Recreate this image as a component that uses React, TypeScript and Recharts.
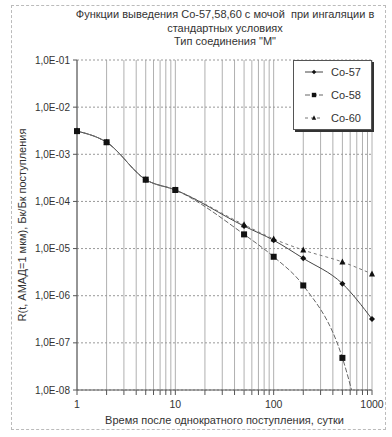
import React from "react";
import { LineChart, Line, XAxis, YAxis, CartesianGrid } from "recharts";

// время после поступления, сутки
const days = [1, 2, 5, 10, 50, 100, 200, 500, 1000];

// Бк/Бк поступления
const co57 = [3.1e-3, 1.8e-3, 2.9e-4, 1.75e-4, 3.0e-5, 1.5e-5, 6.2e-6, 1.8e-6, 3.2e-7];
const co58 = [3.1e-3, 1.8e-3, 2.9e-4, 1.75e-4, 2.0e-5, 6.7e-6, 1.65e-6, 4.8e-8, 1.3e-10];
const co60 = [3.1e-3, 1.8e-3, 2.9e-4, 1.75e-4, 3.2e-5, 1.6e-5, 9.3e-6, 5.2e-6, 2.9e-6];

const xDecades = [1, 10, 100, 1000];
const yTicks = [1e-8, 1e-7, 1e-6, 1e-5, 1e-4, 1e-3, 1e-2, 1e-1];

const titleLines = [
  "Функции выведения Co-57,58,60 с мочой  при ингаляции в",
  "стандартных условиях",
  "Тип соединения \"М\"",
];

const FONT = "'Liberation Sans', Arial, sans-serif";
const TEXT = "#333";

type Marker = "diamond" | "square" | "triangle";

const series: { key: string; name: string; values: number[]; stroke: string; dash?: string; marker: Marker }[] = [
  { key: "co57", name: "Co-57", values: co57, stroke: "#444", marker: "diamond" },
  { key: "co60", name: "Co-60", values: co60, stroke: "#777", dash: "3 3", marker: "triangle" },
  { key: "co58", name: "Co-58", values: co58, stroke: "#666", dash: "5 2", marker: "square" },
];
const legendOrder = ["co57", "co58", "co60"];

const data = days.map((d, i) => {
  const row: Record<string, number> = { day: d };
  series.forEach((s) => (row[s.key] = s.values[i]));
  return row;
});

// все промежуточные деления для сетки
const xTicks: number[] = [];
xDecades.forEach((d, i) => {
  if (i === xDecades.length - 1) { xTicks.push(d); return; }
  for (let k = 1; k < 10; k++) xTicks.push(d * k);
});

const fmtY = (v: number) => {
  const e = Math.round(Math.log10(v));
  return `1,0E-${String(-e).padStart(2, "0")}`;
};

function markerShape(type: Marker, cx: number, cy: number, r = 3, key?: string) {
  if (type === "square") return <rect key={key} x={cx - r} y={cy - r} width={2 * r} height={2 * r} fill="#111" />;
  if (type === "triangle")
    return <polygon key={key} points={`${cx},${cy - r - 0.5} ${cx + r},${cy + r - 0.5} ${cx - r},${cy + r - 0.5}`} fill="#111" />;
  return <polygon key={key} points={`${cx},${cy - r} ${cx + r},${cy} ${cx},${cy + r} ${cx - r},${cy}`} fill="#111" />;
}

const makeDot = (type: Marker) => (props: any) => {
  const { cx, cy, value, index } = props;
  if (cx == null || cy == null || value < 1e-8) return <g key={`d${index}`} />;
  return markerShape(type, cx, cy, 3, `d${index}`);
};

export default function App() {
  return (
    <div style={{ position: "absolute", left: 0, top: 0, width: 392, height: 437, background: "#fff", fontFamily: FONT }}>
      <div style={{ position: "absolute", left: 11, top: 5, width: 373, height: 423, border: "1px dashed #bbb" }} />

      <div style={{ position: "absolute", left: 50, width: 350, top: 8, textAlign: "center", fontSize: 11, lineHeight: "13.5px", color: TEXT }}>
        {titleLines.map((t) => (
          <div key={t} style={{ whiteSpace: "pre" }}>{t}</div>
        ))}
      </div>

      <div style={{ position: "absolute", left: 0, top: 0 }}>
        <LineChart width={392} height={437} data={data} margin={{ top: 60, right: 20, bottom: 21, left: 17 }}>
          <CartesianGrid horizontal={false} stroke="#b0b0b0" />
          <CartesianGrid vertical={false} stroke="#999" strokeDasharray="2 2" />
          <XAxis
            dataKey="day"
            type="number"
            scale="log"
            domain={[1, 1000]}
            ticks={xTicks}
            interval={0}
            height={26}
            tickSize={5}
            tickMargin={6}
            tickFormatter={(v: number) => (xDecades.includes(v) ? String(v) : "")}
            stroke="#555"
            tick={{ fontSize: 10.5, fill: TEXT, fontFamily: FONT }}
            label={{ value: "Время после однократного поступления, сутки", position: "bottom", offset: 0, fontSize: 11, fill: TEXT, fontFamily: FONT }}
          />
          <YAxis
            type="number"
            scale="log"
            domain={[1e-8, 1e-1]}
            ticks={yTicks}
            interval={0}
            allowDataOverflow
            width={60}
            tickSize={4}
            tickMargin={3}
            tickFormatter={fmtY}
            stroke="#555"
            tick={{ fontSize: 10, fill: TEXT, fontFamily: FONT }}
            label={{ value: "R(t, АМАД=1 мкм), Бк/Бк поступления", angle: -90, position: "insideLeft", offset: 5, fontSize: 11, fill: TEXT, fontFamily: FONT, style: { textAnchor: "middle" } }}
          />
          {series.map((s) => (
            <Line
              key={s.key}
              dataKey={s.key}
              name={s.name}
              type="monotone"
              stroke={s.stroke}
              strokeWidth={1}
              strokeDasharray={s.dash}
              dot={makeDot(s.marker)}
              activeDot={false}
              isAnimationActive={false}
            />
          ))}
        </LineChart>
      </div>

      <div style={{ position: "absolute", left: 293, top: 60, width: 77, height: 68, background: "#fff", border: "1px solid #555", boxShadow: "2px 2px 0 #333" }}>
        {legendOrder.map((k, i) => {
          const s = series.find((x) => x.key === k)!;
          return (
            <div key={k} style={{ position: "absolute", left: 10, top: 4 + i * 23, height: 14, display: "flex", alignItems: "center" }}>
              <svg width={20} height={10}>
                <line x1={1} y1={5} x2={19} y2={5} stroke={s.stroke} strokeDasharray={s.dash} />
                {markerShape(s.marker, 10, 5, 2.2)}
              </svg>
              <span style={{ marginLeft: 7, fontSize: 11, color: TEXT }}>{s.name}</span>
            </div>
          );
        })}
      </div>
    </div>
  );
}
